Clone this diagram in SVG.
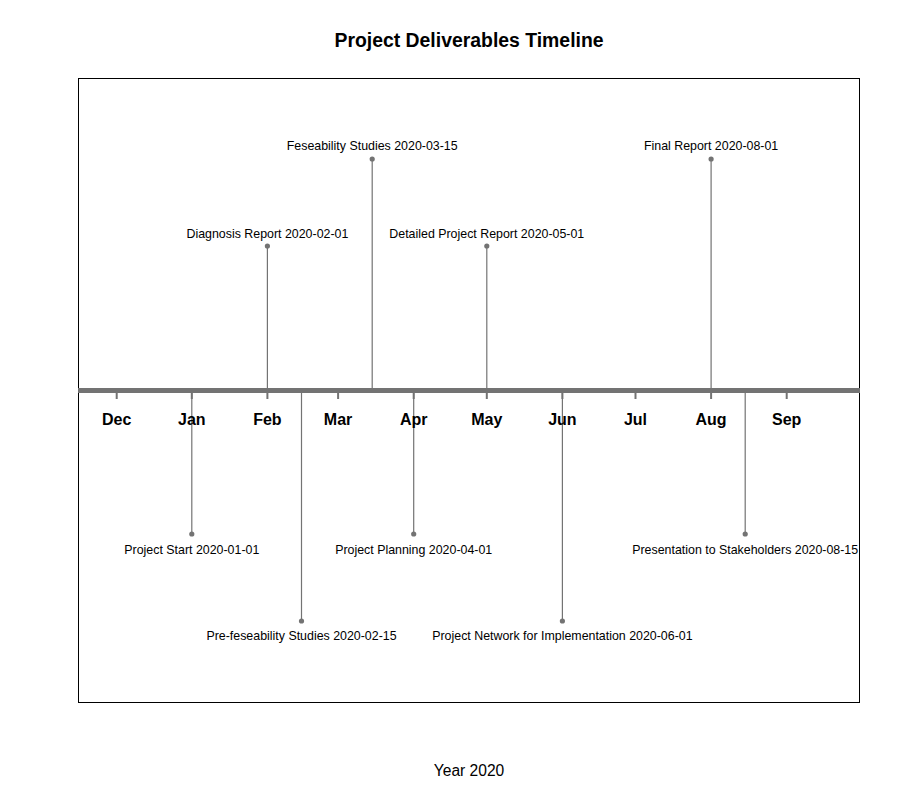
<svg xmlns="http://www.w3.org/2000/svg" width="900" height="800" viewBox="0 0 900 800">
<style>
.lbl{font-family:"Liberation Sans",Arial,sans-serif;font-size:12.4px;fill:#000;text-anchor:middle}
.mon{font-family:"Liberation Sans",Arial,sans-serif;font-size:16px;font-weight:bold;fill:#000;text-anchor:middle}
.ttl{font-family:"Liberation Sans",Arial,sans-serif;font-size:19.4px;font-weight:bold;fill:#000;text-anchor:middle}
.xl{font-family:"Liberation Sans",Arial,sans-serif;font-size:15.6px;fill:#000;text-anchor:middle}
.seg{stroke:#737373;stroke-width:1.2;fill:none}
.dot{fill:#737373}
.tick{stroke:#737373;stroke-width:2}
</style>
<rect width="900" height="800" fill="#fff"/>
<text class="ttl" x="469" y="47">Project Deliverables Timeline</text>
<rect x="78.5" y="78.5" width="781" height="624" fill="none" stroke="#000" stroke-width="1"/>
<g id="connectors">
<line class="seg" x1="267.4" y1="390" x2="267.4" y2="246"/>
<line class="seg" x1="372.2" y1="390" x2="372.2" y2="159"/>
<line class="seg" x1="486.8" y1="390" x2="486.8" y2="246"/>
<line class="seg" x1="711.1" y1="390" x2="711.1" y2="159"/>
<line class="seg" x1="191.8" y1="390" x2="191.8" y2="534"/>
<line class="seg" x1="301.5" y1="390" x2="301.5" y2="621"/>
<line class="seg" x1="413.7" y1="390" x2="413.7" y2="534"/>
<line class="seg" x1="562.4" y1="390" x2="562.4" y2="621"/>
<line class="seg" x1="745.2" y1="390" x2="745.2" y2="534"/>
</g>
<g id="axis">
<line x1="78" y1="390.5" x2="860" y2="390.5" stroke="#737373" stroke-width="5"/>
<line class="tick" x1="116.7" y1="392" x2="116.7" y2="399"/>
<line class="tick" x1="191.8" y1="392" x2="191.8" y2="399"/>
<line class="tick" x1="267.4" y1="392" x2="267.4" y2="399"/>
<line class="tick" x1="338.1" y1="392" x2="338.1" y2="399"/>
<line class="tick" x1="413.7" y1="392" x2="413.7" y2="399"/>
<line class="tick" x1="486.8" y1="392" x2="486.8" y2="399"/>
<line class="tick" x1="562.4" y1="392" x2="562.4" y2="399"/>
<line class="tick" x1="635.5" y1="392" x2="635.5" y2="399"/>
<line class="tick" x1="711.1" y1="392" x2="711.1" y2="399"/>
<line class="tick" x1="786.7" y1="392" x2="786.7" y2="399"/>
<text class="mon" x="116.7" y="425">Dec</text>
<text class="mon" x="191.8" y="425">Jan</text>
<text class="mon" x="267.4" y="425">Feb</text>
<text class="mon" x="338.1" y="425">Mar</text>
<text class="mon" x="413.7" y="425">Apr</text>
<text class="mon" x="486.8" y="425">May</text>
<text class="mon" x="562.4" y="425">Jun</text>
<text class="mon" x="635.5" y="425">Jul</text>
<text class="mon" x="711.1" y="425">Aug</text>
<text class="mon" x="786.7" y="425">Sep</text>
</g>
<g id="n-start"><circle class="dot" cx="191.8" cy="534" r="2.6"/><text class="lbl" x="191.8" y="553.5">Project Start 2020-01-01</text></g>
<g id="n-diagnosis"><circle class="dot" cx="267.4" cy="246" r="2.6"/><text class="lbl" x="267.4" y="237.5">Diagnosis Report 2020-02-01</text></g>
<g id="n-prefeas"><circle class="dot" cx="301.5" cy="621" r="2.6"/><text class="lbl" x="301.5" y="640">Pre-feseability Studies 2020-02-15</text></g>
<g id="n-feas"><circle class="dot" cx="372.2" cy="159" r="2.6"/><text class="lbl" x="372.2" y="150">Feseability Studies 2020-03-15</text></g>
<g id="n-planning"><circle class="dot" cx="413.7" cy="534" r="2.6"/><text class="lbl" x="413.7" y="553.5">Project Planning 2020-04-01</text></g>
<g id="n-detailed"><circle class="dot" cx="486.8" cy="246" r="2.6"/><text class="lbl" x="486.8" y="237.5">Detailed Project Report 2020-05-01</text></g>
<g id="n-network"><circle class="dot" cx="562.4" cy="621" r="2.6"/><text class="lbl" x="562.4" y="640">Project Network for Implementation 2020-06-01</text></g>
<g id="n-final"><circle class="dot" cx="711.1" cy="159" r="2.6"/><text class="lbl" x="711.1" y="150">Final Report 2020-08-01</text></g>
<g id="n-presentation"><circle class="dot" cx="745.2" cy="534" r="2.6"/><text class="lbl" x="745.2" y="553.5">Presentation to Stakeholders 2020-08-15</text></g>
<text class="xl" x="469" y="776">Year 2020</text>
</svg>
